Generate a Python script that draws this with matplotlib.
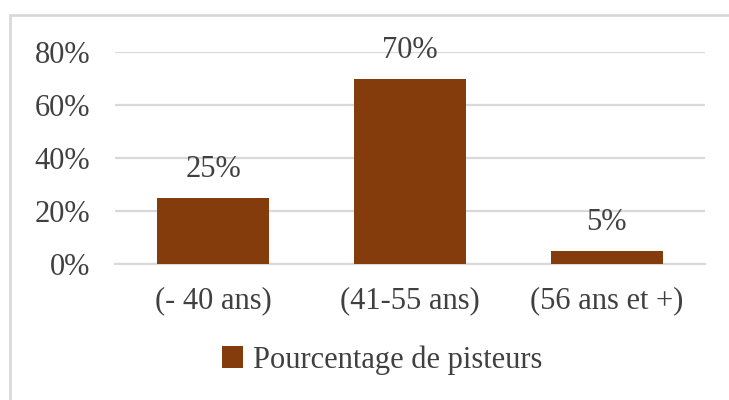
import matplotlib
matplotlib.use("Agg")
import matplotlib.pyplot as plt
from matplotlib.patches import Rectangle
from matplotlib.ticker import FuncFormatter

categories = ["(- 40 ans)", "(41-55 ans)", "(56 ans et +)"]
values = [0.25, 0.70, 0.05]
series_name = "Pourcentage de pisteurs"
yticks = [0.0, 0.2, 0.4, 0.6, 0.8]

BAR = "#843C0C"
GRID = "#D9D9D9"
TEXT = "#404040"
FS = 22

plt.rcParams["font.family"] = ["Liberation Serif", "DejaVu Serif"]

fig = plt.figure(figsize=(7.29, 4.0), dpi=100)
fig.patch.set_facecolor("white")

# chart frame
fig.add_artist(Rectangle((10 / 729, -0.05), 1.0, 1 - 15 / 400 + 0.05,
                         transform=fig.transFigure, fill=False,
                         edgecolor="#D9D9D9", linewidth=2.0))

ax = fig.add_axes([115 / 729, 1 - 264 / 400, 590 / 729, 212 / 400])
x = list(range(len(categories)))
bars = ax.bar(x, values, width=0.57, color=BAR, zorder=3, label=series_name)
ax.set_xlim(-0.5, len(categories) - 0.5)
ax.set_ylim(0, 0.8)
ax.set_yticks(yticks)
ax.yaxis.set_major_formatter(FuncFormatter(lambda v, _: f"{v*100:.0f}%"))
ax.set_xticks(x)
ax.set_xticklabels(categories)
ax.tick_params(axis="both", length=0, labelsize=FS, labelcolor=TEXT)
ax.tick_params(axis="y", pad=18)
ax.tick_params(axis="x", pad=16)
ax.grid(axis="y", color=GRID, linewidth=1.6, zorder=0)
for s in ["top", "right", "left"]:
    ax.spines[s].set_visible(False)
ax.spines["bottom"].set_color(GRID)
ax.spines["bottom"].set_linewidth(1.6)

for xi, v in zip(x, values):
    ax.annotate(f"{v*100:.0f}%", (xi, v), xytext=(0, 10), textcoords="offset points",
                ha="center", va="bottom", fontsize=FS, color=TEXT, clip_on=False)

leg = fig.legend(handles=[bars], labels=[series_name], loc="center",
                 bbox_to_anchor=(382 / 729, 1 - 360 / 400), frameon=False,
                 fontsize=FS, handlelength=0.7, handleheight=0.7, handletextpad=0.3)
for t in leg.get_texts():
    t.set_color(TEXT)

fig.savefig("out.png", dpi=100)
